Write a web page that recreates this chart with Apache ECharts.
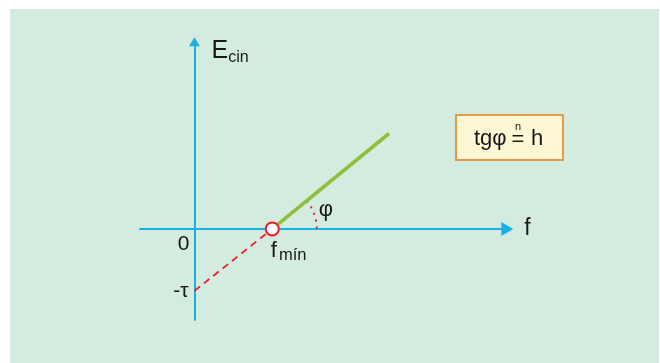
<!DOCTYPE html>
<html>
<head>
<meta charset="utf-8">
<script src="https://cdn.jsdelivr.net/npm/echarts@6/dist/echarts.min.js"></script>
<style>
  html, body { margin: 0; padding: 0; background: #ffffff; }
  #panel { position: absolute; left: 10px; top: 9px; width: 649px; height: 354px; background: #d4ebe0; }
  #chart { position: absolute; left: 0; top: 0; width: 660px; height: 363px; }
</style>
</head>
<body>
<div id="panel"></div>
<div id="chart"></div>
<script>
// Photoelectric effect: kinetic energy of emitted electrons vs. light frequency
const axisRangeX = [-0.7, 4.02];   // frequency axis extent
const axisRangeY = [-1.47, 3.02];  // energy axis extent
const tau = 1;                     // work function (intercept -τ)
const fMin = 1;                    // threshold frequency f_mín
const lineEnd = [2.5, 1.54];       // end of the measured straight line
const originLabel = '0';
const tauLabel = '-τ';

const AXIS_BLUE = '#19b0e8';
const RED = '#ec1c2a';
const GREEN = '#8dc03d';
const INK = '#1a1718';
const FONT = '"Liberation Sans", Arial, sans-serif';

const chart = echarts.init(document.getElementById('chart'), null, { renderer: 'canvas' });

chart.setOption({
  backgroundColor: 'transparent',
  animation: false,
  textStyle: { fontFamily: FONT, color: INK },
  grid: { left: 140, right: 152.7, top: 41.8, bottom: 43, containLabel: false },
  xAxis: {
    type: 'value',
    min: axisRangeX[0],
    max: axisRangeX[1],
    name: 'f',
    nameLocation: 'end',
    nameGap: 17,
    nameTextStyle: { fontSize: 23, color: INK, fontFamily: FONT, verticalAlign: 'middle' },
    axisLine: {
      onZero: true,
      symbol: ['none', 'triangle'],
      symbolSize: [14, 12],
      lineStyle: { color: AXIS_BLUE, width: 2 }
    },
    axisTick: { show: false },
    splitLine: { show: false },
    axisLabel: { show: false }
  },
  yAxis: {
    type: 'value',
    min: axisRangeY[0],
    max: axisRangeY[1],
    name: '{e|E}{s|cin}',
    nameLocation: 'end',
    nameGap: -9,
    nameTextStyle: {
      align: 'left',
      verticalAlign: 'middle',
      padding: [0, 0, 0, 17],
      rich: {
        e: { fontSize: 25, lineHeight: 30, color: INK, fontFamily: FONT, verticalAlign: 'middle' },
        s: { fontSize: 16, lineHeight: 16, color: INK, fontFamily: FONT, verticalAlign: 'bottom' }
      }
    },
    axisLine: {
      onZero: true,
      symbol: ['none', 'triangle'],
      symbolSize: [11, 9],
      lineStyle: { color: AXIS_BLUE, width: 2 }
    },
    axisTick: { show: false },
    splitLine: { show: false },
    axisLabel: { show: false }
  },
  series: [
    {
      // extrapolation down to the energy axis
      type: 'line',
      data: [[0, -tau], [fMin, 0]],
      symbol: 'none',
      lineStyle: { color: RED, width: 1.8, type: [7, 5] },
      z: 2
    },
    {
      // measured straight line
      type: 'line',
      data: [[fMin, 0], lineEnd],
      symbol: 'none',
      lineStyle: { color: GREEN, width: 3.6, cap: 'butt' },
      z: 3
    },
    {
      // angle φ between the line and the frequency axis
      type: 'custom',
      data: [[fMin, 0]],
      z: 3,
      renderItem: function (params, api) {
        const c = api.coord([fMin, 0]);
        const e = api.coord(lineEnd);
        const ang = Math.atan2(c[1] - e[1], e[0] - c[0]);
        const r = 44.5;
        const rl = 57;
        return {
          type: 'group',
          children: [
            {
              type: 'arc',
              shape: { cx: c[0], cy: c[1], r: r, startAngle: -ang, endAngle: 0, clockwise: true },
              style: { stroke: RED, lineWidth: 2, lineDash: [2, 5], fill: null }
            },
            {
              type: 'text',
              x: c[0] + rl * Math.cos(ang / 2),
              y: c[1] - rl * Math.sin(ang / 2),
              style: { text: 'φ', fontSize: 22, fontFamily: FONT, fill: INK, align: 'center', verticalAlign: 'middle' }
            }
          ]
        };
      }
    },
    {
      // labels for the origin and the intercept on the energy axis
      type: 'scatter',
      symbolSize: 0,
      silent: true,
      z: 4,
      itemStyle: { opacity: 1 },
      data: [
        {
          value: [0, 0],
          label: { show: true, formatter: originLabel, position: [-5, 5], align: 'right', verticalAlign: 'top' }
        },
        {
          value: [0, -tau],
          label: { show: true, formatter: tauLabel, position: [-6, 0], align: 'right', verticalAlign: 'middle' }
        }
      ],
      label: { fontSize: 21, color: INK, fontFamily: FONT }
    },
    {
      // threshold frequency marker
      type: 'scatter',
      data: [[fMin, 0]],
      symbol: 'circle',
      symbolSize: 13,
      itemStyle: { color: '#ffffff', borderColor: RED, borderWidth: 2, opacity: 1 },
      z: 5,
      label: {
        show: true,
        position: [6, 17],
        align: 'left',
        verticalAlign: 'top',
        formatter: '{f|f}{s|mín}',
        rich: {
          f: { fontSize: 22, lineHeight: 26, color: INK, fontFamily: FONT, verticalAlign: 'middle' },
          s: { fontSize: 16.5, lineHeight: 16, color: INK, fontFamily: FONT, verticalAlign: 'bottom', padding: [0, 0, 0, 2] }
        }
      }
    }
  ],
  graphic: [
    {
      type: 'group',
      left: 455,
      top: 114,
      children: [
        {
          type: 'rect',
          shape: { x: 0, y: 0, width: 107, height: 45 },
          style: { fill: '#fef7d3', stroke: '#e29a4b', lineWidth: 2 }
        },
        {
          type: 'text',
          x: 18, y: 24,
          style: { text: 'tgφ', fontSize: 22, fontFamily: FONT, fill: INK, verticalAlign: 'middle' }
        },
        {
          type: 'text',
          x: 62, y: 25,
          style: { text: '=', fontSize: 22, fontFamily: FONT, fill: INK, align: 'center', verticalAlign: 'middle' }
        },
        {
          type: 'text',
          x: 62, y: 12,
          style: { text: 'n', fontSize: 11, fontFamily: FONT, fill: INK, align: 'center', verticalAlign: 'middle' }
        },
        {
          type: 'text',
          x: 75, y: 24,
          style: { text: 'h', fontSize: 22, fontFamily: FONT, fill: INK, verticalAlign: 'middle' }
        }
      ]
    }
  ]
});
</script>
</body>
</html>
